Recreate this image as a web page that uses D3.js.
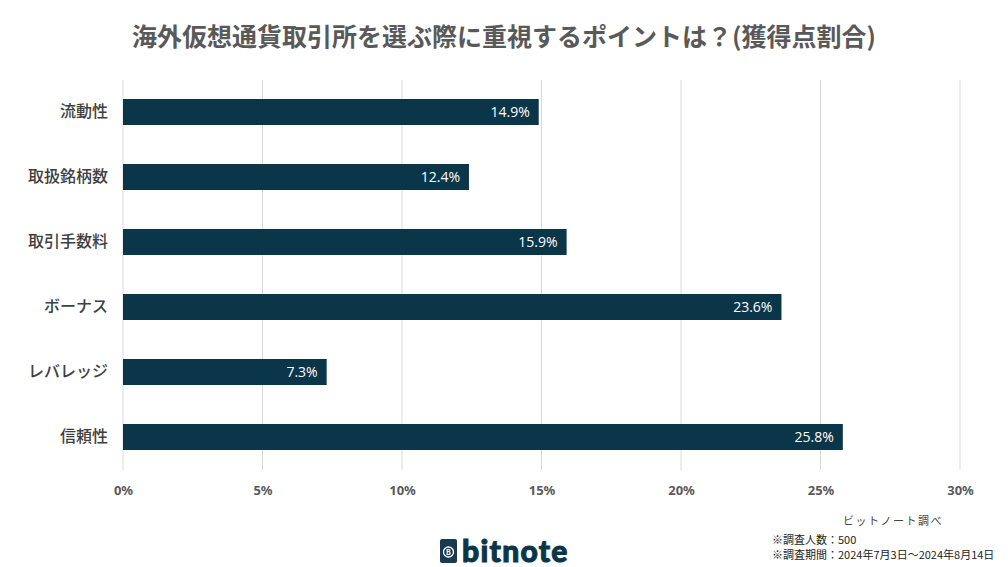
<!DOCTYPE html>
<html><head><meta charset="utf-8">
<script src="https://cdn.jsdelivr.net/npm/d3@7"></script>
<style>body{margin:0;background:#fff;font-family:"Noto Sans CJK JP","Noto Sans",sans-serif;}</style>
</head><body>
<svg id="c" width="1008" height="567"></svg>
<script>
const categories = ["流動性","取扱銘柄数","取引手数料","ボーナス","レバレッジ","信頼性"];
const values = [14.9, 12.4, 15.9, 23.6, 7.3, 25.8];
const ticks = [0,5,10,15,20,25,30];
const title = "海外仮想通貨取引所を選ぶ際に重視するポイントは？(獲得点割合)";
const notes = ["ビットノート調べ","※調査人数：500","※調査期間：2024年7月3日～2024年8月14日"];

const svg = d3.select("#c");
const barColor = "#0b3549";
const x = d3.scaleLinear().domain([0,30]).range([123,960]);
const y = d3.scaleBand().domain(categories).range([79.5,469.5]).paddingInner(0.6).paddingOuter(0.3);

svg.append("text").attr("x",504).attr("y",46).attr("text-anchor","middle")
  .attr("font-size",25).attr("font-weight","bold").attr("fill","#595959").text(title);

// gridlines
svg.append("g").selectAll("line").data(ticks).join("line")
  .attr("x1",d=>x(d)).attr("x2",d=>x(d)).attr("y1",80).attr("y2",470)
  .attr("stroke","#d9d9d9").attr("stroke-width",1);

// x axis labels
const xa = svg.append("g").attr("transform","translate(0,470)")
  .call(d3.axisBottom(x).tickValues(ticks).tickFormat(d=>d+"%").tickSize(0).tickPadding(16));
xa.select(".domain").remove();
xa.selectAll("text").attr("font-size",13).attr("font-weight","bold").attr("fill","#595959")
  .attr("font-family","'Noto Sans',sans-serif");

// y labels
const ya = svg.append("g").attr("transform","translate(123,0)")
  .call(d3.axisLeft(y).tickSize(0).tickPadding(15));
ya.select(".domain").remove();
ya.selectAll("text").attr("font-size",16).attr("font-weight",500).attr("fill","#404040").attr("font-family","'Noto Sans CJK JP',sans-serif");

// bars
svg.append("g").selectAll("rect").data(values).join("rect")
  .attr("x",x(0)).attr("y",(d,i)=>y(categories[i])).attr("width",d=>x(d)-x(0))
  .attr("height",y.bandwidth()).attr("fill",barColor);

svg.append("g").selectAll("text").data(values).join("text")
  .attr("x",d=>x(d)-9).attr("y",(d,i)=>y(categories[i])+y.bandwidth()/2)
  .attr("dy","0.36em").attr("text-anchor","end").attr("fill","#fff").attr("font-size",14)
  .attr("font-family","'Open Sans','Noto Sans',sans-serif").text(d=>d.toFixed(1)+"%");

// footer notes
svg.append("text").attr("x",843).attr("y",525).attr("font-size",11).attr("fill","#444")
  .attr("letter-spacing","1.5px").text(notes[0]);
svg.append("text").attr("x",772).attr("y",544).attr("font-size",11).attr("fill","#222").text(notes[1]);
svg.append("text").attr("x",772).attr("y",559).attr("font-size",11).attr("fill","#222").text(notes[2]);

// logo
const lg = svg.append("g");
lg.append("rect").attr("x",440).attr("y",539).attr("width",17).attr("height",24).attr("rx",2).attr("fill","#1c3a4f");
lg.append("circle").attr("cx",448.5).attr("cy",552).attr("r",5).attr("fill","none").attr("stroke","#fff").attr("stroke-width",1.3);
lg.append("text").attr("x",448.5).attr("y",555).attr("text-anchor","middle").attr("font-size",7).attr("font-weight","bold").attr("fill","#fff").text("B");
lg.append("text").attr("x",462).attr("y",562).attr("font-size",30).attr("font-weight","900")
  .attr("font-family","'Lato','Noto Sans',sans-serif").attr("fill","#0b3549").attr("letter-spacing","1.3px")
  .attr("stroke","#0b3549").attr("stroke-width",1).text("bitnote");
</script>
</body></html>
